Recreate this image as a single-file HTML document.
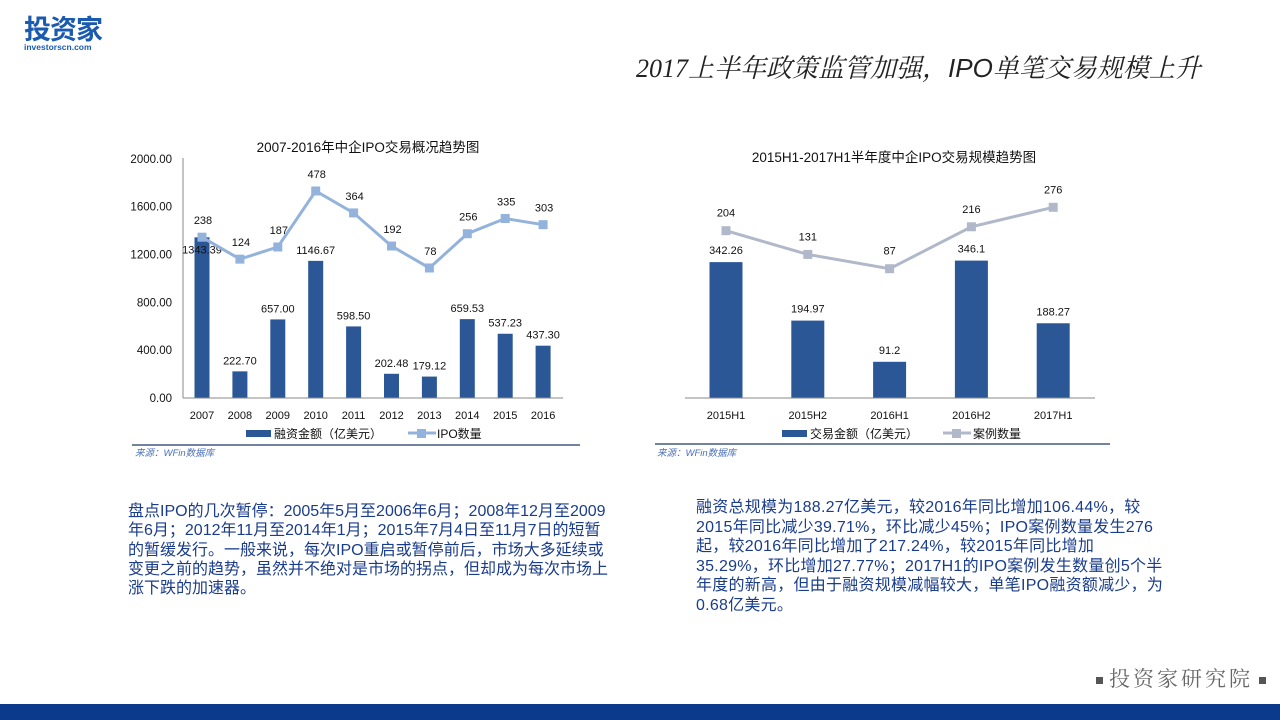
<!DOCTYPE html>
<html><head><meta charset="utf-8">
<style>
body{margin:0;width:1280px;height:720px;overflow:hidden;background:#fff;font-family:"Liberation Sans","Noto Sans CJK SC",sans-serif;position:relative}
.abs{position:absolute}
.para{position:absolute;color:#1a3c8c;font-size:16px;line-height:19.3px;white-space:nowrap}
</style></head><body>
<div class="abs" style="left:24px;top:14px;width:100px;height:40px">
  <div style="font-size:27px;font-weight:bold;color:#1a5bb0;line-height:28px;letter-spacing:-1px;font-family:'Noto Sans CJK SC',sans-serif">投资家</div>
  <div style="font-size:8.5px;font-weight:bold;color:#1a5bb0;line-height:10px">investorscn.com</div>
</div>
<div class="abs" style="left:636px;top:48px;font-size:26px;font-style:italic;color:#222;white-space:nowrap;font-family:'Liberation Serif','Noto Serif CJK SC',serif">2017上半年政策监管加强，<span style="font-family:'Liberation Sans',sans-serif">IPO</span>单笔交易规模上升</div>

<svg class="abs" style="left:0;top:0" width="1280" height="720">
<g id="left"></g>
<g id="right"></g>
</svg>

<div class="para" style="left:128px;top:502px;letter-spacing:0px">盘点IPO的几次暂停：2005年5月至2006年6月；2008年12月至2009<br>年6月；2012年11月至2014年1月；2015年7月4日至11月7日的短暂<br>的暂缓发行。一般来说，每次IPO重启或暂停前后，市场大多延续或<br>变更之前的趋势，虽然并不绝对是市场的拐点，但却成为每次市场上<br>涨下跌的加速器。</div>
<div class="para" style="left:696px;top:498px;line-height:19.6px;letter-spacing:0.25px">融资总规模为188.27亿美元，较2016年同比增加106.44%，较<br>2015年同比减少39.71%，环比减少45%；IPO案例数量发生276<br>起，较2016年同比增加了217.24%，较2015年同比增加<br>35.29%，环比增加27.77%；2017H1的IPO案例发生数量创5个半<br>年度的新高，但由于融资规模减幅较大，单笔IPO融资额减少，为<br>0.68亿美元。</div>

<div class="abs" style="left:1096px;top:663px;font-size:21px;color:#666;letter-spacing:3px;white-space:nowrap;font-family:'Noto Serif CJK SC',serif">
<span style="display:inline-block;width:7px;height:7px;background:#555;vertical-align:middle;margin-right:6px"></span>投资家研究院<span style="display:inline-block;width:7px;height:7px;background:#555;vertical-align:middle;margin-left:6px"></span></div>
<div class="abs" style="left:0;top:704px;width:1280px;height:16px;background:#0b3a8c"></div>

<script>
const leftYears=["2007","2008","2009","2010","2011","2012","2013","2014","2015","2016"];
const leftAmounts=[1343.39,222.70,657.00,1146.67,598.50,202.48,179.12,659.53,537.23,437.30];
const leftAmountLabels=["1343.39","222.70","657.00","1146.67","598.50","202.48","179.12","659.53","537.23","437.30"];
const leftCounts=[238,124,187,478,364,192,78,256,335,303];
const leftTicks=[0,400,800,1200,1600,2000];
const rightCats=["2015H1","2015H2","2016H1","2016H2","2017H1"];
const rightAmounts=[342.26,194.97,91.2,346.1,188.27];
const rightAmountLabels=["342.26","194.97","91.2","346.1","188.27"];
const rightCounts=[204,131,87,216,276];

const NS="http://www.w3.org/2000/svg";
function mk(p,tag,attrs,txt){const e=document.createElementNS(NS,tag);for(const k in attrs)e.setAttribute(k,attrs[k]);if(txt!=null)e.textContent=txt;p.appendChild(e);return e;}
const F='"Liberation Sans","Noto Sans CJK SC",sans-serif';
const BAR='#2b5797', LINE1='#94b3dc', LINE2='#b0b8c9';

// left chart
const L=document.getElementById('left');
const lx=i=>202+i*37.9, ly=v=>398-v*0.1196, lc=v=>283-v*0.1925;
let t=mk(L,'text',{x:368,y:152,'font-size':13.5,'text-anchor':'middle','font-family':F,fill:'#111'},'2007-2016年中企IPO交易概况趋势图');

leftTicks.forEach(v=>{const e=mk(L,'text',{x:172,y:ly(v)+4,'font-size':11.5,'text-anchor':'end','font-family':F,fill:'#111'},v.toFixed(2));
});
let ax=mk(L,'line',{x1:183,y1:158,x2:183,y2:398,stroke:'#888'});
leftAmounts.forEach((v,i)=>{const b=mk(L,'rect',{x:lx(i)-7.5,y:ly(v),width:15,height:398-ly(v),fill:BAR});

const ty = ly(v)>250 ? ly(v)-7 : ly(v)+16;
const e=mk(L,'text',{x:lx(i),y:ty,'font-size':11,'text-anchor':'middle','font-family':F,fill:'#111'},leftAmountLabels[i]);

const c=mk(L,'text',{x:lx(i),y:419,'font-size':11,'text-anchor':'middle','font-family':F,fill:'#111'},leftYears[i]);
});
ax=mk(L,'line',{x1:183,y1:398,x2:563,y2:398,stroke:'#888'});
let pl=mk(L,'polyline',{points:leftCounts.map((v,i)=>lx(i)+','+lc(v)).join(' '),fill:'none',stroke:LINE1,'stroke-width':3});

leftCounts.forEach((v,i)=>{const m=mk(L,'rect',{x:lx(i)-4.5,y:lc(v)-4.5,width:9,height:9,fill:LINE1});

const e=mk(L,'text',{x:lx(i)+1,y:lc(v)-13,'font-size':11,'text-anchor':'middle','font-family':F,fill:'#111'},String(v));
});
let lg=mk(L,'g',{});
mk(lg,'rect',{x:246,y:430,width:25,height:7,fill:BAR});
mk(lg,'text',{x:274,y:438,'font-size':12,'font-family':F,fill:'#111'},'融资金额（亿美元）');
mk(lg,'line',{x1:408,y1:433,x2:436,y2:433,stroke:LINE1,'stroke-width':3});
mk(lg,'rect',{x:417,y:429,width:9,height:9,fill:LINE1});
mk(lg,'text',{x:437,y:438,'font-size':12,'font-family':F,fill:'#111'},'IPO数量');
mk(L,'line',{x1:132,y1:445,x2:580,y2:445,stroke:'#445a80','stroke-width':1.5});
let s=mk(L,'text',{x:135,y:456,'font-size':9.5,'font-style':'italic','font-family':F,fill:'#4a70b8'},'来源：WFin数据库');


// right chart
const R=document.getElementById('right');
const rx=i=>726+i*81.8, ry=v=>398-v*0.397, rc=v=>297-v*0.325;
t=mk(R,'text',{x:894,y:162,'font-size':13.5,'text-anchor':'middle','font-family':F,fill:'#111'},'2015H1-2017H1半年度中企IPO交易规模趋势图');

rightAmounts.forEach((v,i)=>{const b=mk(R,'rect',{x:rx(i)-16.5,y:ry(v),width:33,height:398-ry(v),fill:BAR});

const e=mk(R,'text',{x:rx(i),y:ry(v)-8,'font-size':11,'text-anchor':'middle','font-family':F,fill:'#111'},rightAmountLabels[i]);

const c=mk(R,'text',{x:rx(i),y:419,'font-size':11,'text-anchor':'middle','font-family':F,fill:'#111'},rightCats[i]);
});
ax=mk(R,'line',{x1:685,y1:398,x2:1095,y2:398,stroke:'#888'});
pl=mk(R,'polyline',{points:rightCounts.map((v,i)=>rx(i)+','+rc(v)).join(' '),fill:'none',stroke:LINE2,'stroke-width':3});

rightCounts.forEach((v,i)=>{const m=mk(R,'rect',{x:rx(i)-4.5,y:rc(v)-4.5,width:9,height:9,fill:LINE2});

const e=mk(R,'text',{x:rx(i),y:rc(v)-14,'font-size':11,'text-anchor':'middle','font-family':F,fill:'#111'},String(v));
});
lg=mk(R,'g',{});
mk(lg,'rect',{x:782,y:430,width:25,height:7,fill:BAR});
mk(lg,'text',{x:810,y:438,'font-size':12,'font-family':F,fill:'#111'},'交易金额（亿美元）');
mk(lg,'line',{x1:943,y1:433,x2:971,y2:433,stroke:LINE2,'stroke-width':3});
mk(lg,'rect',{x:952,y:429,width:9,height:9,fill:LINE2});
mk(lg,'text',{x:973,y:438,'font-size':12,'font-family':F,fill:'#111'},'案例数量');
mk(R,'line',{x1:655,y1:444,x2:1110,y2:444,stroke:'#445a80','stroke-width':1.5});
s=mk(R,'text',{x:657,y:456,'font-size':9.5,'font-style':'italic','font-family':F,fill:'#4a70b8'},'来源：WFin数据库');

</script>
</body></html>
